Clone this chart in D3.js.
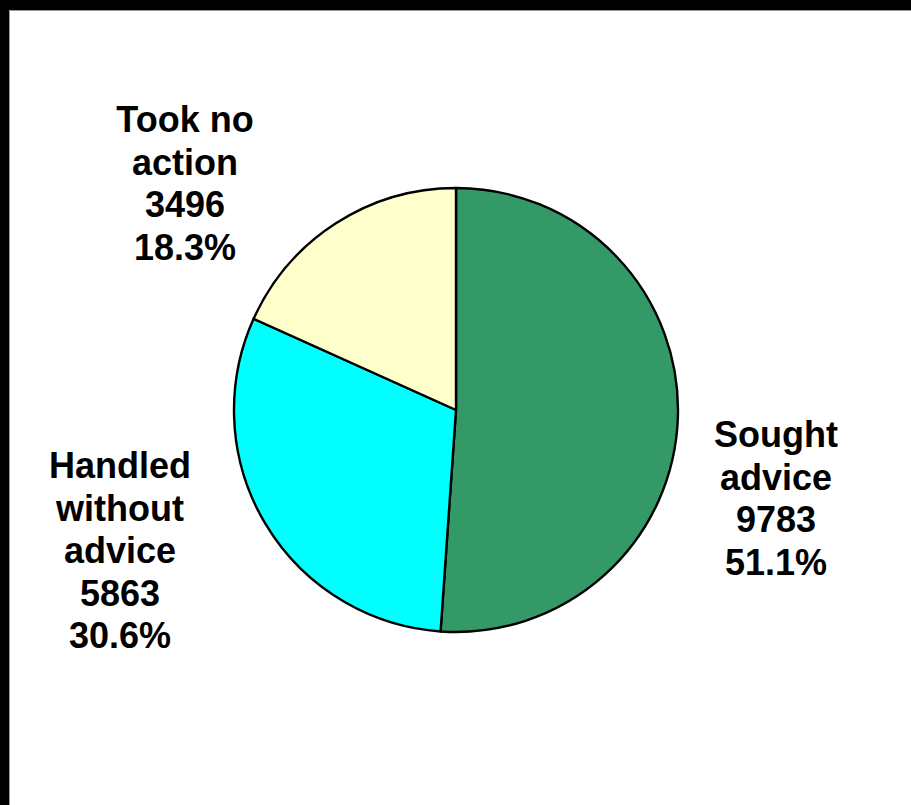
<!DOCTYPE html>
<html>
<head>
<meta charset="utf-8">
<script src="https://cdn.jsdelivr.net/npm/d3@7"></script>
<style>
html,body{margin:0;padding:0;background:#fff;}
svg{display:block;}
</style>
</head>
<body>
<script>
const categories = ["Sought advice", "Handled without advice", "Took no action"];
const labelLines = [["Sought", "advice"], ["Handled", "without", "advice"], ["Took no", "action"]];
const values = [9783, 5863, 3496];
const colors = ["#339966", "#00FFFF", "#FFFFCC"];

const W = 911, H = 805;
const svg = d3.select("body").append("svg").attr("width", W).attr("height", H);

// frame
svg.append("rect").attr("x", 0).attr("y", 0).attr("width", W).attr("height", H).attr("fill", "#fff");
svg.append("rect").attr("x", 0).attr("y", 0).attr("width", W).attr("height", 10).attr("fill", "#000");
svg.append("rect").attr("x", 0).attr("y", 0).attr("width", 9).attr("height", H).attr("fill", "#000");
svg.append("line").attr("x1", 9.5).attr("y1", 10.5).attr("x2", W).attr("y2", 10.5).attr("stroke", "#999").attr("stroke-width", 1);
svg.append("line").attr("x1", 9.5).attr("y1", 10.5).attr("x2", 9.5).attr("y2", H).attr("stroke", "#999").attr("stroke-width", 1);

const cx = 456, cy = 410, R = 222;
const total = d3.sum(values);
const pie = d3.pie().sort(null).value(d => d)(values);
const arc = d3.arc().innerRadius(0).outerRadius(R);
const color = d3.scaleOrdinal().domain(categories).range(colors);

const g = svg.append("g").attr("transform", `translate(${cx},${cy})`);
g.selectAll("path").data(pie).join("path")
  .attr("d", arc)
  .attr("fill", (d, i) => color(categories[i]))
  .attr("stroke", "#000")
  .attr("stroke-width", 2.4)
  .attr("stroke-linejoin", "round");

const fmt = d3.format(".1%");
// label block placement (centre x, first baseline y)
const labelPos = [[776, 447], [120, 478], [185, 132]];
const lineH = 42.6;
pie.forEach((d, i) => {
  const lines = labelLines[i].concat([String(values[i]), fmt(values[i] / total)]);
  const t = svg.append("text")
    .attr("text-anchor", "middle")
    .attr("font-family", "Liberation Sans, Arial, sans-serif")
    .attr("font-weight", "bold")
    .attr("font-size", 36)
    .attr("fill", "#000");
  lines.forEach((s, k) => {
    t.append("tspan").attr("x", labelPos[i][0]).attr("y", labelPos[i][1] + k * lineH).text(s);
  });
});
</script>
</body>
</html>
